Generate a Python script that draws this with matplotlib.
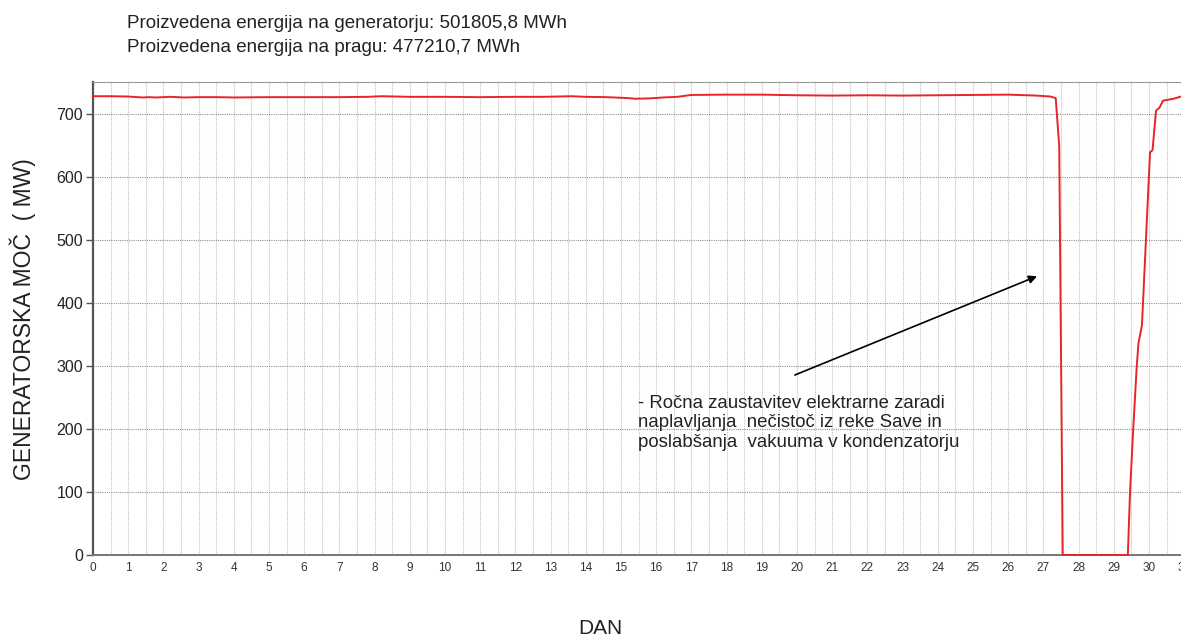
import matplotlib.pyplot as plt
import matplotlib.ticker as mticker

# Data (day of month, generator power in MW)
days = [0, 0.5, 1.0, 1.4, 1.6, 1.8, 2.2, 2.6, 3.0, 3.5, 4, 5, 6, 7, 7.8, 8.2,
        9, 10, 11, 12, 12.8, 13.2, 13.6, 14, 14.6, 15.2, 15.4, 15.8, 16.2,
        16.6, 17, 18, 19, 20, 21, 22, 23, 24, 25, 26, 26.8, 27.2, 27.35,
        27.45, 27.55, 29.4, 29.46, 29.55, 29.65, 29.7, 29.8, 30.03, 30.1,
        30.2, 30.3, 30.4, 30.7, 31]
power = [729, 729, 728.5, 727, 727.5, 727, 728, 727, 727.5, 727.5, 727, 727.5,
         727.5, 727.5, 728, 729, 728, 728, 727.5, 728, 728, 728.5, 729, 728,
         727.5, 726, 725, 725.5, 727, 728, 731, 731.5, 731.5, 730.5, 730,
         730.5, 730, 730.5, 731, 731.5, 730, 728.5, 726, 650, 0, 0, 98, 198,
         298, 336, 365, 640, 643, 706, 711, 722, 725, 730]

header = ["Proizvedena energija na generatorju: 501805,8 MWh",
          "Proizvedena energija na pragu: 477210,7 MWh"]
note = ("- Ročna zaustavitev elektrarne zaradi\n"
        "naplavljanja  nečistoč iz reke Save in\n"
        "poslabšanja  vakuuma v kondenzatorju")

plt.rcParams["font.family"] = ["Liberation Sans", "DejaVu Sans"]

W, H = 1181, 637
fig = plt.figure(figsize=(W / 100, H / 100), dpi=100)
ax = fig.add_axes([0.0787, 0.1287, 0.924, 0.742])

ax.plot(days, power, color="#e8242a", linewidth=1.4, clip_on=False, zorder=5)

ax.set_xlim(0, 31)
ax.set_ylim(0, 751)
ax.xaxis.set_major_locator(mticker.MultipleLocator(1))
ax.xaxis.set_minor_locator(mticker.MultipleLocator(0.5))
ax.yaxis.set_major_locator(mticker.MultipleLocator(100))

ax.grid(which="both", axis="x", color="#c0c0c0", linestyle=(0, (1, 1)), linewidth=0.8)
ax.grid(which="major", axis="y", color="#909090", linestyle=(0, (1, 1)), linewidth=0.8)
ax.set_axisbelow(True)

ax.tick_params(axis="x", which="both", length=0, labelsize=8.5, pad=5, labelcolor="#333333")
ax.tick_params(axis="y", length=5, width=1, color="#555555", labelsize=11.5, pad=2,
               labelcolor="#222222")

for side in ["top", "right"]:
    ax.spines[side].set_color("#999999")
    ax.spines[side].set_linewidth(0.8)
ax.spines["left"].set_color("#555555")
ax.spines["left"].set_linewidth(1.6)
ax.spines["bottom"].set_color("#777777")
ax.spines["bottom"].set_linewidth(1.4)

# axis titles placed in figure pixels, as in the reference
fig.text(23 / W, 1 - 319 / H, "GENERATORSKA MOČ  ( MW)", fontsize=16.5,
         rotation=90, ha="center", va="center", color="#222222")
fig.text(600 / W, 1 - 629 / H, "DAN", fontsize=15, ha="center", va="center",
         color="#222222")

fig.text(127 / W, 1 - 23 / H, header[0], fontsize=13.5, va="center", color="#222222")
fig.text(127 / W, 1 - 48 / H, header[1], fontsize=13.5, va="center", color="#222222")

ax.annotate("", xy=(26.82, 443), xytext=(19.94, 286),
            arrowprops=dict(arrowstyle="-|>", color="black", lw=1.2,
                            mutation_scale=12, shrinkA=0, shrinkB=0))
ax.text(15.48, 254, note, fontsize=13.4, va="top", ha="left", linespacing=1.17,
        color="#222222")

fig.savefig("out.png", dpi=100)
